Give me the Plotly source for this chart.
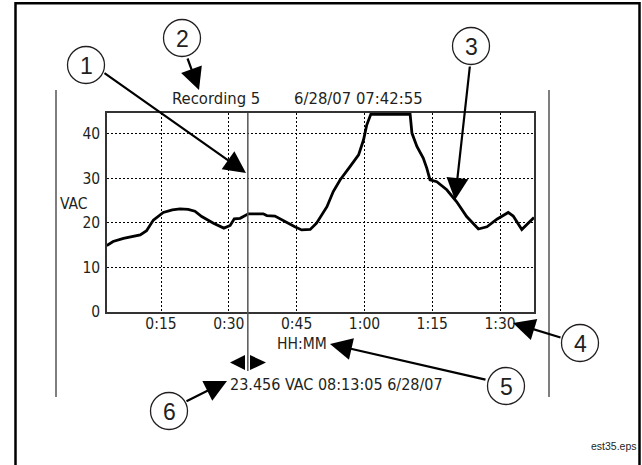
import plotly.graph_objects as go

# trace (minutes since start, volts AC)
minutes = [3.0, 4.4, 6.7, 10.4, 11.8, 13.3, 15.5, 17.5, 19.2, 21.0, 22.5, 24.0, 26.6,
           28.9, 30.3, 31.2, 32.5, 34.3, 37.6, 38.4, 40.2, 42.8, 44.6, 46.1, 48.0,
           49.4, 50.2, 51.7, 53.1, 54.6, 56.8, 58.7, 59.8, 60.5, 61.4, 70.1, 70.5,
           71.6, 73.0, 73.8, 74.5, 76.0, 78.2, 80.4, 82.6, 85.2, 87.1, 89.3, 91.8,
           92.9, 94.8, 96.3, 97.5]
vac = [14.9, 15.8, 16.5, 17.3, 18.2, 20.6, 22.3, 22.9, 23.1, 23.0, 22.6, 21.4, 19.9,
       18.8, 19.4, 20.9, 21.0, 22.0, 22.0, 21.6, 21.5, 20.0, 19.1, 18.4, 18.5,
       19.9, 21.2, 23.6, 27.0, 29.6, 32.6, 35.2, 38.6, 41.9, 44.3, 44.3, 40.1,
       37.1, 34.5, 32.2, 29.6, 29.2, 27.4, 24.7, 21.4, 18.6, 19.1, 20.8, 22.3,
       21.5, 18.5, 19.9, 21.2]

x_ticks = [15, 30, 45, 60, 75, 90]
x_labels = ['0:15', '0:30', '0:45', '1:00', '1:15', '1:30']
y_ticks = [0, 10, 20, 30, 40]
cursor_min = 34.2

title_left = 'Recording 5'
title_right = '6/28/07 07:42:55'
cursor_text = '23.456 VAC 08:13:05 6/28/07'
callouts = ['1', '2', '3', '4', '5', '6']

W, H = 642, 465
L, R, T, B = 107, 534, 113, 312
FONT = 'DejaVu Sans Condensed'
INK = '#231f20'


def px(p):
    return (p - L) / (R - L)


def py(p):
    return (B - p) / (B - T)


fig = go.Figure()
fig.add_trace(go.Scatter(x=minutes, y=vac, mode='lines',
                         line=dict(color='black', width=2.8), hoverinfo='skip'))

shapes = []
# outer frame (open at the bottom)
shapes.append(dict(type='path', xref='paper', yref='paper',
                   path=f'M {px(15.5)},{py(480)} L {px(15.5)},{py(3.3)} '
                        f'L {px(639.5)},{py(3.3)} L {px(639.5)},{py(480)}',
                   line=dict(color='black', width=2.5)))
# side rules
for xx in (56, 549):
    shapes.append(dict(type='line', xref='paper', yref='paper',
                       x0=px(xx), x1=px(xx), y0=py(90), y1=py(397),
                       line=dict(color='#555', width=1.5)))
# cursor
shapes.append(dict(type='line', xref='x', yref='paper', x0=cursor_min, x1=cursor_min,
                   y0=1, y1=py(371), line=dict(color='#555', width=1.5)))
# cursor arrows
shapes.append(dict(type='path', xref='paper', yref='paper', fillcolor='black',
                   line=dict(width=0),
                   path=f'M {px(230)},{py(362.5)} L {px(245)},{py(355)} L {px(245)},{py(370)} Z'))
shapes.append(dict(type='path', xref='paper', yref='paper', fillcolor='black',
                   line=dict(width=0),
                   path=f'M {px(266)},{py(362.5)} L {px(250)},{py(355)} L {px(250)},{py(370)} Z'))

# callout circles: centre x, centre y, arrow tail, arrow tip
circles = [(86, 65, (103, 72), (246, 173)),
           (182, 38, (187, 57), (199, 90)),
           (471, 46, (470, 65), (455, 200)),
           (580, 343, (562, 338), (513, 323)),
           (506, 386, (487, 380), (330, 344)),
           (169, 411, (185, 402), (227, 381))]
rad = 18.5

annotations = []
for lab, (cx, cy, tail, tip) in zip(callouts, circles):
    shapes.append(dict(type='circle', xref='paper', yref='paper',
                       x0=px(cx - rad), x1=px(cx + rad), y0=py(cy + rad), y1=py(cy - rad),
                       line=dict(color=INK, width=1.3), fillcolor='white'))
    annotations.append(dict(x=px(cx), y=py(cy + 1), xref='paper', yref='paper', text=lab,
                            showarrow=False, xanchor='center', yanchor='middle',
                            font=dict(family='Liberation Sans', size=23, color=INK)))
    annotations.append(dict(x=px(tip[0]), y=py(tip[1]), xref='paper', yref='paper', text='',
                            showarrow=True, ax=tail[0] - tip[0], ay=tail[1] - tip[1],
                            arrowhead=2, arrowsize=2.0, arrowwidth=2.2, arrowcolor='black'))


def label(x, y, text, anchor='center', size=15.5, family=FONT):
    annotations.append(dict(x=px(x), y=py(y), xref='paper', yref='paper', text=text,
                            showarrow=False, xanchor=anchor, yanchor='middle',
                            font=dict(family=family, size=size, color=INK)))


label(170, 99, title_left, 'left', 16.5)
label(292, 99, title_right, 'left', 16.5)
label(74, 204, 'VAC')
label(302, 344, 'HH:MM')
label(228, 384, cursor_text, 'left', 16)
label(639, 446, 'est35.eps', 'right', 10.5, 'Liberation Sans')

fig.update_layout(
    width=W, height=H,
    margin=dict(l=L, r=W - R, t=T, b=H - B),
    paper_bgcolor='white', plot_bgcolor='white',
    showlegend=False,
    shapes=shapes, annotations=annotations,
    font=dict(family=FONT, size=15.5, color=INK),
)
fig.update_xaxes(range=[3.05, 97.5], tickvals=x_ticks, ticktext=x_labels,
                 showgrid=True, gridcolor='black', griddash='2px,2px', gridwidth=1.2,
                 showline=True, mirror=True, linecolor='#333', linewidth=1.5,
                 ticks='', ticklabelstandoff=-3, zeroline=False)
fig.update_yaxes(range=[0, 44.6], tickvals=y_ticks,
                 showgrid=True, gridcolor='black', griddash='2px,2px', gridwidth=1.2,
                 showline=True, mirror=True, linecolor='#333', linewidth=1.5,
                 ticks='outside', ticklen=2, tickcolor='rgba(0,0,0,0)', zeroline=False)

fig.write_html('out.html', config={'displayModeBar': False},
               post_script="document.body.style.margin='0px';")
